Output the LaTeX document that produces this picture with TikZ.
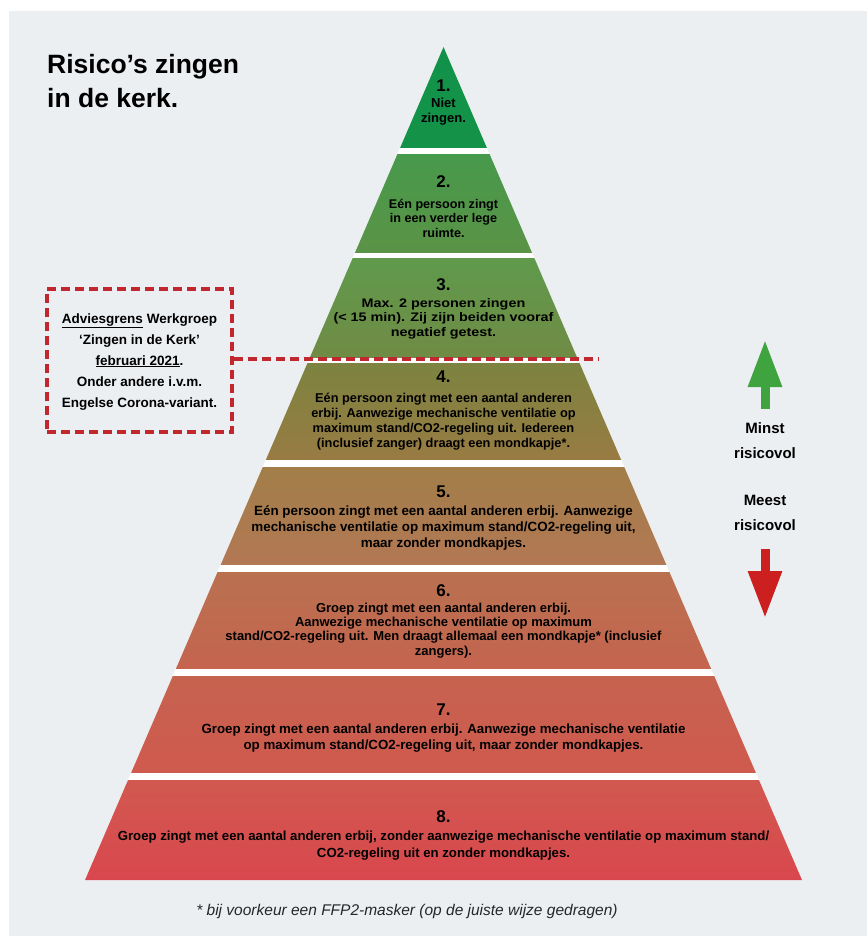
\documentclass[tikz,border=0pt]{standalone}
\usepackage{fontspec}
\setmainfont{Liberation Sans}
\newfontfamily\breedfont[FakeStretch=1.16]{Liberation Sans}
\usetikzlibrary{arrows.meta}
\tikzset{>=latex}

\definecolor{achtergrond}{HTML}{ECEFF2}
\definecolor{grensrood}{HTML}{C1272D}
\definecolor{pijlgroen}{HTML}{3FA33F}
\definecolor{pijlrood}{HTML}{CC1F1F}
\definecolor{laag1a}{HTML}{12914A}
\definecolor{laag1b}{HTML}{149348}
\definecolor{laag2a}{HTML}{47994B}
\definecolor{laag2b}{HTML}{5B9347}
\definecolor{laag3a}{HTML}{5F9A4C}
\definecolor{laag3b}{HTML}{708B45}
\definecolor{laag4a}{HTML}{7C8340}
\definecolor{laag4b}{HTML}{987B42}
\definecolor{laag5a}{HTML}{A17E49}
\definecolor{laag5b}{HTML}{B37854}
\definecolor{laag6a}{HTML}{B97150}
\definecolor{laag6b}{HTML}{C5644F}
\definecolor{laag7a}{HTML}{C6634F}
\definecolor{laag7b}{HTML}{CF5A4E}
\definecolor{laag8a}{HTML}{D1594F}
\definecolor{laag8b}{HTML}{D9474E}

\tikzset{
  kop/.style={anchor=base west, inner sep=0, font=\fontsize{26.5}{30}\selectfont\bfseries},
  tiernum/.style={anchor=base, inner sep=0, font=\fontsize{17}{17}\selectfont\bfseries},
  tiertxt/.style={anchor=base, inner sep=0, align=center},
  adviesbox/.style={draw=grensrood, line width=3.2pt, dash pattern=on 9pt off 5pt,
    minimum width=185pt, minimum height=143pt, inner sep=0},
  adviestxt/.style={anchor=base, inner sep=0, align=center, font=\fontsize{13.5}{21}\selectfont\bfseries},
  grenslijn/.style={grensrood, line width=3.2pt, dash pattern=on 9pt off 5pt},
  risico/.style={anchor=base, inner sep=0, align=center, font=\fontsize{15}{25}\selectfont\bfseries}
}

\begin{document}
\begin{tikzpicture}[x=1pt,y=-1pt]
  \useasboundingbox (0,0) rectangle (867,936);
  \fill[achtergrond] (9,11) rectangle (867,936);

  \node[kop] (titel1) at (47,74) {Risico's zingen};
  \node[kop] (titel2) at (47,108) {in de kerk.};

  % piramide
  \begin{scope}
    \clip (443.5,47) -- (802,880) -- (85,880) -- cycle;
    \fill[white] (0,40) rectangle (867,880);
    \foreach \boven/\onder/\k in {47/148/1, 155/252/2, 258/357/3, 363/459/4,
                                  467/564/5, 572/668/6, 676/772/7, 780/880/8}
      \shade[top color=laag\k a, bottom color=laag\k b] (0,\boven) rectangle (867,\onder);
  \end{scope}

  % teksten per laag (ankers op de laatste regel)
  \node[tiernum] (n1) at (443.5,92) {1.};
  \node[tiertxt, font=\fontsize{13}{15}\selectfont\bfseries] (t1) at (443.5,123) {Niet\\zingen.};

  \node[tiernum] (n2) at (443.5,187) {2.};
  \node[tiertxt, font=\fontsize{12.6}{14.5}\selectfont\bfseries] (t2) at (443.5,237)
    {Eén persoon zingt\\in een verder lege\\ruimte.};

  \node[tiernum] (n3) at (443.5,290) {3.};
  \node[tiertxt, font=\breedfont\fontsize{12.4}{14.5}\selectfont\bfseries] (t3) at (443.5,336)
    {Max. 2 personen zingen\\(< 15 min). Zij zijn beiden vooraf\\negatief getest.};

  \node[tiernum] (n4) at (443.5,382) {4.};
  \node[tiertxt, font=\fontsize{12.8}{14.7}\selectfont\bfseries] (t4) at (443.5,447)
    {Eén persoon zingt met een aantal anderen\\erbij. Aanwezige mechanische ventilatie op\\
     maximum stand/CO2-regeling uit. Iedereen\\(inclusief zanger) draagt een mondkapje*.};

  \node[tiernum] (n5) at (443.5,497) {5.};
  \node[tiertxt, font=\fontsize{13.4}{16}\selectfont\bfseries] (t5) at (443.5,547)
    {Eén persoon zingt met een aantal anderen erbij. Aanwezige\\
     mechanische ventilatie op maximum stand/CO2-regeling uit,\\maar zonder mondkapjes.};

  \node[tiernum] (n6) at (443.5,596) {6.};
  \node[tiertxt, font=\fontsize{13}{14.3}\selectfont\bfseries] (t6) at (443.5,655)
    {Groep zingt met een aantal anderen erbij.\\Aanwezige mechanische ventilatie op maximum\\
     stand/CO2-regeling uit. Men draagt allemaal een mondkapje* (inclusief\\zangers).};

  \node[tiernum] (n7) at (443.5,715) {7.};
  \node[tiertxt, font=\fontsize{13.3}{16}\selectfont\bfseries] (t7) at (443.5,749)
    {Groep zingt met een aantal anderen erbij. Aanwezige mechanische ventilatie\\
     op maximum stand/CO2-regeling uit, maar zonder mondkapjes.};

  \node[tiernum] (n8) at (443.5,822) {8.};
  \node[tiertxt, font=\fontsize{13.2}{17}\selectfont\bfseries] (t8) at (443.5,857)
    {Groep zingt met een aantal anderen erbij, zonder aanwezige mechanische ventilatie op maximum stand/\\
     CO2-regeling uit en zonder mondkapjes.};

  % adviesgrens
  \node[adviesbox] (advies) at (139.5,360.5) {};
  \node[adviestxt] (adviestekst) at (139.5,407)
    {\underline{Adviesgrens} Werkgroep\\`Zingen in de Kerk'\\\underline{februari 2021}.\\
     Onder andere i.v.m.\\Engelse Corona-variant.};
  \coordinate (grenseind) at (598,359);
  \draw[grenslijn] (advies.east |- grenseind) -- (grenseind);

  % pijlen
  \coordinate (groenvoet) at (765,409);
  \coordinate (groenpunt) at (765,340);
  \draw[pijlgroen, line width=9pt, -{Triangle[width=32pt,length=47pt]}] (groenvoet) -- (groenpunt);
  \node[risico] (minst) at (765,458) {Minst\\risicovol};
  \node[risico] (meest) at (765,530) {Meest\\risicovol};
  \coordinate (roodvoet) at (765,549);
  \coordinate (roodpunt) at (765,618);
  \draw[pijlrood, line width=9pt, -{Triangle[width=32pt,length=47pt]}] (roodvoet) -- (roodpunt);

  \node[anchor=base, inner sep=0, text=black!85, font=\fontsize{15.5}{18}\selectfont\itshape] (voetnoot)
    at (407,915) {* bij voorkeur een FFP2-masker (op de juiste wijze gedragen)};
\end{tikzpicture}
\end{document}
